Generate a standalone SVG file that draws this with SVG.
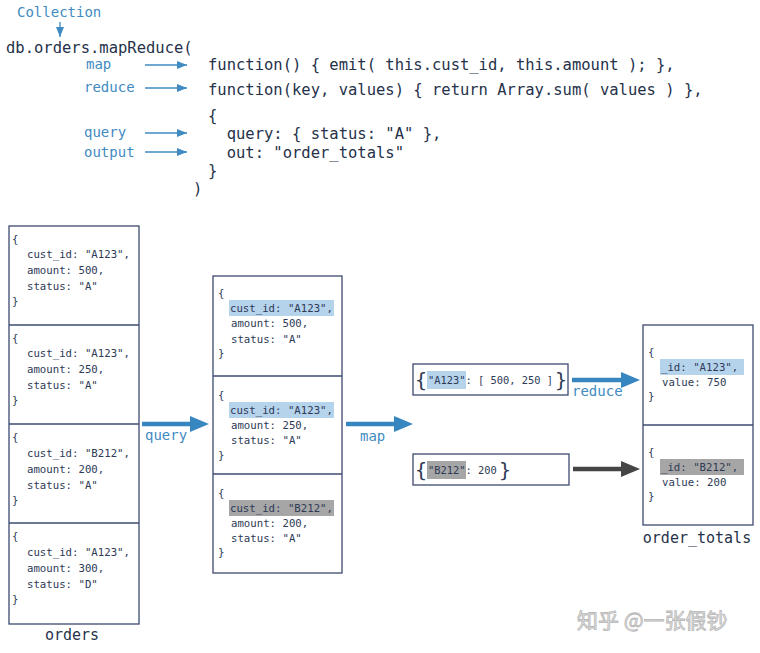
<svg xmlns="http://www.w3.org/2000/svg" width="760" height="653" viewBox="0 0 760 653">
<style>
.code{font-family:"DejaVu Sans Mono","Liberation Mono",monospace;font-size:15.5px;fill:#26324a}
.lbl{font-family:"DejaVu Sans Mono","Liberation Mono",monospace;font-size:14px;fill:#3f8bc2}
.doc{font-family:"DejaVu Sans Mono","Liberation Mono",monospace;font-size:10.7px;fill:#2e3a56}
.kv{font-family:"DejaVu Sans Mono","Liberation Mono",monospace;font-size:10.4px;fill:#2e3a56}
.brace{font-family:"DejaVu Sans Mono","Liberation Mono",monospace;font-size:20px;fill:#2e3a56}
.cap{font-family:"DejaVu Sans Mono","Liberation Mono",monospace;font-size:15px;fill:#26324a}
.box{fill:#fff;stroke:#3e4a70;stroke-width:1.3}
.div{stroke:#3e4a70;stroke-width:1.3}
.hb{fill:#b6d3ec}
.hg{fill:#a6a6a6}
.thin{stroke:#3f8bc2;stroke-width:1.3;fill:none}
.thick{stroke:#3786c0;stroke-width:4.5;fill:none}
.thickg{stroke:#454545;stroke-width:4.5;fill:none}
.wm{font-family:"Noto Sans CJK SC","Noto Sans",sans-serif;font-size:21px;fill:#e4e4e4;stroke:#b8b8b8;stroke-width:0.8}
</style>
<defs>
<marker id="ah" markerUnits="userSpaceOnUse" markerWidth="10" markerHeight="8" refX="10" refY="4" orient="auto"><path d="M0,0 L10,4 L0,8 z" fill="#3f8bc2"/></marker>
<marker id="bh" markerUnits="userSpaceOnUse" markerWidth="19" markerHeight="16" refX="0" refY="8" orient="auto"><path d="M0,0 L19,8 L0,16 z" fill="#3786c0"/></marker>
<marker id="gh" markerUnits="userSpaceOnUse" markerWidth="19" markerHeight="16" refX="0" refY="8" orient="auto"><path d="M0,0 L19,8 L0,16 z" fill="#454545"/></marker>
</defs>

<g id="code">
<text class="lbl" x="17" y="17">Collection</text>
<text class="code" x="6" y="53">db.orders.mapReduce(</text>
<text class="lbl" x="86" y="69">map</text>
<text class="lbl" x="84" y="92">reduce</text>
<text class="lbl" x="84" y="137">query</text>
<text class="lbl" x="84" y="157">output</text>
<text class="code" x="208" y="70">function() { emit( this.cust_id, this.amount ); },</text>
<text class="code" x="208" y="95">function(key, values) { return Array.sum( values ) },</text>
<text class="code" x="208" y="121">{</text>
<text class="code" x="208" y="139" xml:space="preserve">  query: { status: "A" },</text>
<text class="code" x="208" y="158" xml:space="preserve">  out: "order_totals"</text>
<text class="code" x="208" y="176">}</text>
<text class="code" x="193" y="194">)</text>
</g>

<g id="orders">
<rect class="box" x="9" y="226" width="130" height="398"/>
<line class="div" x1="9" y1="325" x2="139" y2="325"/>
<line class="div" x1="9" y1="424" x2="139" y2="424"/>
<line class="div" x1="9" y1="523" x2="139" y2="523"/>
<text class="doc" x="12" y="243">{</text>
<text class="doc" x="27" y="258">cust_id: "A123",</text>
<text class="doc" x="27" y="274">amount: 500,</text>
<text class="doc" x="27" y="290">status: "A"</text>
<text class="doc" x="12" y="305">}</text>
<text class="doc" x="12" y="342">{</text>
<text class="doc" x="27" y="357">cust_id: "A123",</text>
<text class="doc" x="27" y="373">amount: 250,</text>
<text class="doc" x="27" y="389">status: "A"</text>
<text class="doc" x="12" y="404">}</text>
<text class="doc" x="12" y="441">{</text>
<text class="doc" x="27" y="457">cust_id: "B212",</text>
<text class="doc" x="27" y="473">amount: 200,</text>
<text class="doc" x="27" y="489">status: "A"</text>
<text class="doc" x="12" y="504">}</text>
<text class="doc" x="12" y="540">{</text>
<text class="doc" x="27" y="556">cust_id: "A123",</text>
<text class="doc" x="27" y="572">amount: 300,</text>
<text class="doc" x="27" y="588">status: "D"</text>
<text class="doc" x="12" y="603">}</text>
<text class="cap" x="72" y="640" text-anchor="middle">orders</text>
</g>

<g id="filtered">
<rect class="box" x="213" y="276" width="129" height="297"/>
<line class="div" x1="213" y1="376" x2="342" y2="376"/>
<line class="div" x1="213" y1="474" x2="342" y2="474"/>
<rect class="hb" x="229" y="300" width="105" height="16"/>
<rect class="hb" x="229" y="402" width="105" height="16"/>
<rect class="hg" x="229" y="500" width="105" height="16"/>
<text class="doc" x="218" y="297">{</text>
<text class="doc" x="230" y="312">cust_id: "A123",</text>
<text class="doc" x="231" y="327">amount: 500,</text>
<text class="doc" x="231" y="343">status: "A"</text>
<text class="doc" x="218" y="357">}</text>
<text class="doc" x="218" y="399">{</text>
<text class="doc" x="230" y="414">cust_id: "A123",</text>
<text class="doc" x="231" y="429">amount: 250,</text>
<text class="doc" x="231" y="444">status: "A"</text>
<text class="doc" x="218" y="459">}</text>
<text class="doc" x="218" y="497">{</text>
<text class="doc" x="230" y="512">cust_id: "B212",</text>
<text class="doc" x="231" y="527">amount: 200,</text>
<text class="doc" x="231" y="542">status: "A"</text>
<text class="doc" x="218" y="556">}</text>
</g>

<g id="mapA">
<rect class="box" x="413" y="364" width="155" height="31"/>
<rect class="hb" x="427" y="371" width="39" height="18"/>
<text class="brace" x="415" y="387">{</text>
<text class="kv" x="428" y="384">"A123": [ 500, 250 ]</text>
<text class="brace" x="555" y="387">}</text>
</g>

<g id="mapB">
<rect class="box" x="413" y="454" width="156" height="31"/>
<rect class="hg" x="427" y="461" width="39" height="18"/>
<text class="brace" x="415" y="477">{</text>
<text class="kv" x="428" y="474">"B212": 200</text>
<text class="brace" x="499" y="477">}</text>
</g>

<g id="order_totals">
<rect class="box" x="643" y="325" width="110" height="200"/>
<line class="div" x1="643" y1="425" x2="753" y2="425"/>
<rect class="hb" x="660" y="359" width="84" height="16"/>
<rect class="hg" x="660" y="459" width="84" height="16"/>
<text class="doc" x="648" y="356">{</text>
<text class="doc" x="661" y="371">_id: "A123",</text>
<text class="doc" x="662" y="386">value: 750</text>
<text class="doc" x="648" y="400">}</text>
<text class="doc" x="648" y="456">{</text>
<text class="doc" x="661" y="471">_id: "B212",</text>
<text class="doc" x="662" y="486">value: 200</text>
<text class="doc" x="648" y="500">}</text>
<text class="cap" x="697" y="543" text-anchor="middle">order_totals</text>
</g>

<g id="connectors">
<line class="thin" x1="60" y1="22" x2="60" y2="37" marker-end="url(#ah)"/>
<line class="thin" x1="145" y1="65" x2="187" y2="65" marker-end="url(#ah)"/>
<line class="thin" x1="145" y1="88" x2="187" y2="88" marker-end="url(#ah)"/>
<line class="thin" x1="145" y1="133" x2="187" y2="133" marker-end="url(#ah)"/>
<line class="thin" x1="145" y1="152" x2="187" y2="152" marker-end="url(#ah)"/>
<line class="thick" x1="142" y1="424" x2="190" y2="424" marker-end="url(#bh)"/>
<text class="lbl" x="145" y="440">query</text>
<line class="thick" x1="346" y1="424" x2="394" y2="424" marker-end="url(#bh)"/>
<text class="lbl" x="360" y="441">map</text>
<line class="thick" x1="572" y1="380" x2="621" y2="380" marker-end="url(#bh)"/>
<text class="lbl" x="572" y="396">reduce</text>
<line class="thickg" x1="573" y1="469" x2="621" y2="469" marker-end="url(#gh)"/>
</g>

<text class="wm" x="577" y="628">知乎 @一张假钞</text>
</svg>
